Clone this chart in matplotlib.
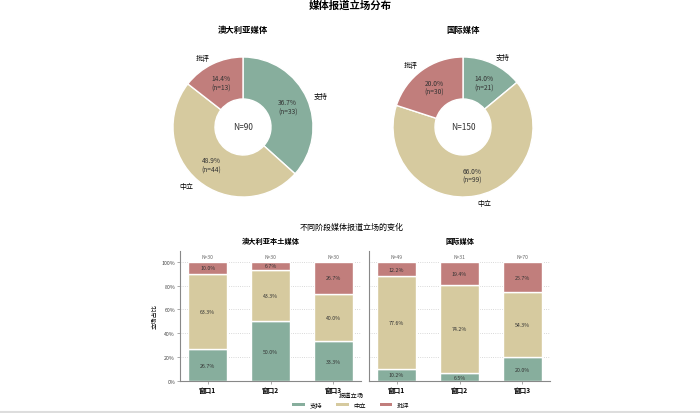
import matplotlib
matplotlib.use("Agg")
import matplotlib.pyplot as plt
from matplotlib.lines import Line2D
from matplotlib.patches import Patch
import numpy as np

plt.rcParams['font.family'] = ['Noto Sans CJK SC', 'DejaVu Sans']

# ---------------------------------------------------------------
# data
# ---------------------------------------------------------------
stances = ["支持", "中立", "批评"]
colors = ["#87ae9d", "#d6ca9f", "#c17e7c"]

pie_titles = ["澳大利亚媒体", "国际媒体"]
aus_counts = [33, 44, 13]
intl_counts = [21, 99, 30]

windows = ["窗口1", "窗口2", "窗口3"]
bar_titles = ["澳大利亚本土媒体", "国际媒体"]
aus_n = [30, 30, 30]
aus_support = [26.7, 50.0, 33.3]
aus_neutral = [63.3, 43.3, 40.0]
aus_critical = [10.0, 6.7, 26.7]
intl_n = [49, 31, 70]
intl_support = [10.2, 6.5, 20.0]
intl_neutral = [77.6, 74.2, 54.3]
intl_critical = [12.2, 19.4, 25.7]

W, H = 700, 414
fig = plt.figure(figsize=(7, 4.14), dpi=100)


def box(x0, y0, x1, y1):
    # pixel box (top-left origin) -> figure fraction
    return [x0 / W, 1 - y1 / H, (x1 - x0) / W, (y1 - y0) / H]


fig.text(350 / W, 1 - 6 / H, "媒体报道立场分布", ha="center", va="center",
         fontsize=7.5, fontweight="bold")

# ---------------------------------------------------------------
# donut charts
# ---------------------------------------------------------------
pie_boxes = [box(173, 58, 313, 198), box(393, 58, 533, 198)]
pie_title_x = [243, 463]
for i, counts in enumerate([aus_counts, intl_counts]):
    ax = fig.add_axes(pie_boxes[i])
    total = sum(counts)
    wedges, texts, autotexts = ax.pie(
        counts, labels=stances, colors=colors, startangle=90, counterclock=False,
        autopct=lambda p, t=total: "%.1f%%\n(n=%d)" % (p, round(p * t / 100)),
        pctdistance=0.7, labeldistance=1.1,
        wedgeprops=dict(width=0.6, edgecolor="white", linewidth=1),
        textprops=dict(fontsize=5))
    for t in autotexts:
        t.set_fontsize(4.8)
        t.set_color("#333333")
    ax.text(0, 0, "N=%d" % total, ha="center", va="center", fontsize=6,
            color="#333333")
    ax.set_xlim(-1, 1)
    ax.set_ylim(-1, 1)
    fig.text(pie_title_x[i] / W, 1 - 30 / H, pie_titles[i], ha="center",
             va="center", fontsize=6, fontweight="bold")

# ---------------------------------------------------------------
# stacked bars
# ---------------------------------------------------------------
fig.text(352 / W, 1 - 227 / H, "不同阶段媒体报道立场的变化", ha="center",
         va="center", fontsize=5.8)

bar_boxes = [box(180, 252, 361, 382), box(369, 252, 550, 382)]
series = [
    (aus_n, [aus_support, aus_neutral, aus_critical]),
    (intl_n, [intl_support, intl_neutral, intl_critical]),
]
x = np.arange(len(windows))
for i, (ns, parts) in enumerate(series):
    ax = fig.add_axes(bar_boxes[i])
    bottom = np.zeros(len(windows))
    for j, vals in enumerate(parts):
        v = np.array(vals) / 100
        ax.bar(x, v, 0.62, bottom=bottom, color=colors[j], edgecolor="white",
               linewidth=1, zorder=2)
        for k in range(len(windows)):
            ax.text(x[k], bottom[k] + v[k] / 2, "%.1f%%" % vals[k], ha="center",
                    va="center", fontsize=3.8, color="#333333", zorder=3)
        bottom += v
    for k in range(len(windows)):
        ax.text(x[k], 1.045, "N=%d" % ns[k], ha="center", va="center",
                fontsize=3.6, color="#666666")
    ax.set_xlim(-0.44, 2.44)
    ax.set_ylim(0, 1.09)
    ax.set_yticks(np.arange(0, 1.01, 0.2))
    ax.grid(axis="y", linestyle=":", color="#cccccc", linewidth=0.6, zorder=0)
    ax.set_axisbelow(True)
    ax.set_xticks(x)
    ax.set_xticklabels(windows, fontsize=4.8, fontweight="bold")
    for s in ["top", "right"]:
        ax.spines[s].set_visible(False)
    for s in ["left", "bottom"]:
        ax.spines[s].set_color("#888888")
        ax.spines[s].set_linewidth(0.8)
    ax.tick_params(length=2, width=0.5, color="#888888", pad=1.5)
    if i == 0:
        ax.set_yticklabels(["%d%%" % v for v in range(0, 101, 20)],
                           fontsize=3.8, color="#444444")
        ax.set_ylabel("立场占比", fontsize=4.5, labelpad=2)
    else:
        ax.tick_params(axis="y", left=False, labelleft=False)
    ax.set_title(bar_titles[i], fontsize=5.2, fontweight="bold", pad=6)

handles = [Patch(facecolor=c, edgecolor="none") for c in colors]
leg = fig.legend(handles, stances, title="报道立场", loc="center",
                 bbox_to_anchor=(351 / W, 1 - 401 / H), ncol=3, frameon=False,
                 fontsize=4.5, title_fontsize=4.5, handlelength=2.0,
                 handleheight=0.5, columnspacing=2.2, handletextpad=0.8,
                 borderpad=0.2, labelspacing=0.2)

fig.add_artist(Line2D([0, 1], [1.5 / H, 1.5 / H], color="#dddddd",
                      linewidth=1.5, transform=fig.transFigure))

fig.savefig("out.png", dpi=100, facecolor="white")
